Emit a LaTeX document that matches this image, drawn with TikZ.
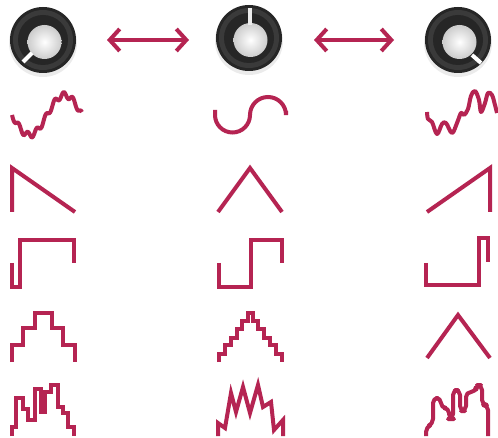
\documentclass[tikz,border=0pt]{standalone}
\usetikzlibrary{arrows.meta}
\definecolor{wave}{RGB}{181,36,82}
\definecolor{knobdark}{RGB}{38,38,38}
\definecolor{knobring}{RGB}{58,58,58}
\tikzset{
  wv/.style={draw=wave, line width=4pt, line join=miter},
  wvr/.style={wv, rounded corners=5pt, line join=round},
  arr/.style={draw=wave, line width=4pt, {Straight Barb[length=10pt,width=22pt,line width=4pt]}-{Straight Barb[length=10pt,width=22pt,line width=4pt]}},
  knobpos/.style={circle, minimum size=66pt, inner sep=0pt},
}
\newcommand{\knob}[2]{%
  \fill[black, opacity=0.08] (#1,#2+3) circle (34);
  \fill[knobdark] (#1,#2) circle (33);
  \fill[knobring] (#1,#2) circle (30);
  \fill[knobdark] (#1,#2) circle (25);
  \shade[inner color=white, outer color=gray!40] (#1+1.5,#2+2) circle (17);
}
\begin{document}
\begin{tikzpicture}[x=1pt,y=-1pt]
\useasboundingbox (0,0) rectangle (498,438);
\fill[white] (0,0) rectangle (498,438);
% knobs
\knob{43}{40}
\knob{249}{38}
\knob{458}{40}
\draw[white, line width=4pt] (32,53) -- (23,62);
\draw[white!85!gray, line width=4pt] (249.5,25) -- (249.5,8);
\draw[white, line width=4pt] (472,55) -- (481,63);
\node[knobpos] (k1) at (43,40) {};
\node[knobpos] (k2) at (249,38) {};
\node[knobpos] (k3) at (458,40) {};
\coordinate (a1) at (107,40);
\coordinate (a2) at (189,40);
\coordinate (a3) at (314,40);
\coordinate (a4) at (394,40);
\path[arr] (a1) -- (a2);
\path[arr] (a3) -- (a4);
% row 1
\draw[wv, line join=round] plot[domain=12:82, samples=90] (\x, {115 + 20*sin(5.142857*(\x-12)) + 3*sin(40*(\x-12))});
\draw[wv, line cap=butt] (215,110) -- (215,115) arc[start angle=180, end angle=0, radius=17.5] arc[start angle=180, end angle=360, radius=18] -- (286,111);
\draw[wv, line join=round] plot[smooth, tension=0.6] coordinates {(427,112) (428,119) (432,122) (437,134) (442,124) (446,123) (452,133) (457,123) (461,113) (464,115) (468,109) (471,96) (475,91) (479,100) (481,112) (485,103) (488,93) (492,95) (495,105) (497,113)};
% row 2
\draw[wv] (12,212) -- (12,168) -- (75,212);
\draw[wv] (218,212) -- (250,168) -- (282,212);
\draw[wv] (427,212) -- (490,168) -- (490,212);
% row 3
\draw[wv] (12,263) -- (12,287) -- (20,287) -- (20,240) -- (74,240) -- (74,263);
\draw[wv] (219,263) -- (219,287) -- (251,287) -- (251,240) -- (282,240) -- (282,263);
\draw[wv] (426,263) -- (426,285) -- (479,285) -- (479,238) -- (488,238) -- (488,262);
% row 4
\draw[wv] (12,362) -- (12,345) -- (23,345) -- (23,328) -- (35,328) -- (35,313) -- (52,313) -- (52,328) -- (63,328) -- (63,345) -- (75,345) -- (75,362);
\draw[wv] (219,362) -- (219,354) -- (225,354) -- (225,345) -- (231,345) -- (231,338) -- (237,338) -- (237,329) -- (242,329) -- (242,321) -- (248,321) -- (248,313) -- (253,313) -- (253,321) -- (258,321) -- (258,329) -- (264,329) -- (264,338) -- (270,338) -- (270,345) -- (276,345) -- (276,354) -- (282,354) -- (282,362);
\draw[wv] (427,358) -- (458,315) -- (490,358);
% row 5
\draw[wv] (12,436) -- (12,427) -- (16,427) -- (16,398) -- (23,398) -- (23,409) -- (28,409) -- (28,420) -- (35,420) -- (35,389) -- (41,389) -- (41,412) -- (45,412) -- (45,392) -- (51,392) -- (51,385) -- (58,385) -- (58,407) -- (63,407) -- (63,413) -- (68,413) -- (68,427) -- (74,427) -- (74,436);
\draw[wv] (218,436) -- (218,423) -- (225,428) -- (231,393) -- (236,412) -- (243,387) -- (250,413) -- (258,385) -- (263,407) -- (271,402) -- (274,430) -- (283,420) -- (283,436);
\draw[wvr] (426,436) -- (426,427) -- (433,424) -- (433,398) -- (441,398) -- (441,408) -- (449,408) -- (449,419) -- (453,419) -- (453,390) -- (460,390) -- (460,411) -- (466,411) -- (466,392) -- (476,392) -- (476,385) -- (482,385) -- (482,405) -- (488,405) -- (488,436);
\end{tikzpicture}
\end{document}
